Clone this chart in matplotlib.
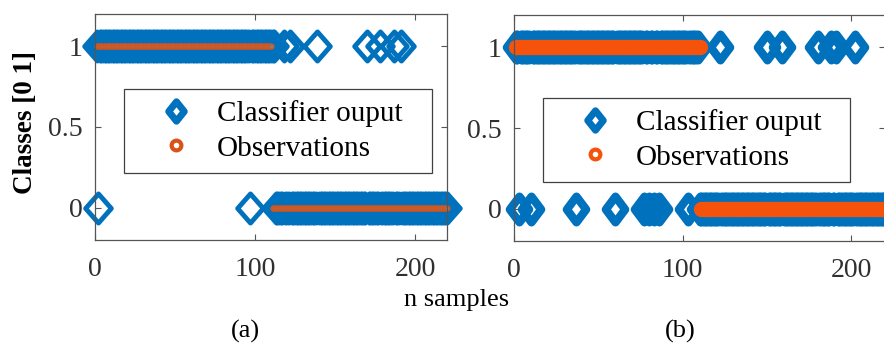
import numpy as np
import matplotlib
matplotlib.use("Agg")
import matplotlib.pyplot as plt
from matplotlib.path import Path
from matplotlib.markers import MarkerStyle
from matplotlib.lines import Line2D

plt.rcParams['font.family'] = ['Liberation Serif', 'DejaVu Serif']

# samples 1..220, observations switch from class 1 to class 0 after sample 110
n_samples = 220
obs_last_one = 110

# panel (a): classifier output
a_cls_last_one = 112
a_zeros_in_ones = [2, 97]
a_ones_in_zeros = [118, 122, 139, 170, 178, 187, 191]

# panel (b)
b_cls_last_one = 109
b_zeros_in_ones = [3, 10, 37, 60, 77, 80, 83, 86, 103]
b_ones_in_zeros = [122, 150, 159, 180, 188, 191, 202]

x_ticks = [0, 100, 200]
y_ticks = [0, 0.5, 1]
y_tick_labels = ['0', '0.5', '1']

blue = '#0072BD'
orange_a = '#D95319'
orange_b = '#F5520C'
grey = '#555555'


def make_series(last_one, zeros_in_ones, ones_in_zeros):
  idx = np.arange(1, n_samples + 1)
  vals = np.where(idx <= last_one, 1.0, 0.0)
  for i in zeros_in_ones:
    vals[i - 1] = 0.0
  for i in ones_in_zeros:
    vals[i - 1] = 1.0
  return idx, vals


def diamond(w):
  verts = [(0, 1), (w, 0), (0, -1), (-w, 0), (0, 1)]
  return MarkerStyle(Path(verts, closed=True), joinstyle='miter')


def style_axes(ax):
  ax.set_xlim(0, 220)
  ax.set_ylim(-0.2, 1.2)
  ax.set_xticks(x_ticks)
  ax.set_yticks(y_ticks)
  ax.set_yticklabels(y_tick_labels)
  ax.tick_params(direction='in', length=4, width=0.8, top=True, right=True,
                 color=grey, labelcolor='#303030', labelsize=20)
  ax.tick_params(axis='x', pad=12)
  ax.tick_params(axis='y', pad=9)
  for sp in ax.spines.values():
    sp.set_color(grey)
    sp.set_linewidth(0.9)


W, H = 884, 344
fig = plt.figure(figsize=(W / 100, H / 100), dpi=100)
ax_a = fig.add_axes([95 / W, 1 - 240 / H, 352 / W, 226 / H])
ax_b = fig.add_axes([514 / W, 1 - 241 / H, 371 / W, 226 / H])

idx, obs = make_series(obs_last_one, [], [])

# (a)
_, cls_a = make_series(a_cls_last_one, a_zeros_in_ones, a_ones_in_zeros)
ax_a.plot(idx, cls_a, ls='none', marker=diamond(0.88), ms=21, mew=3.5,
          mec=blue, mfc='none', clip_on=False)
ax_a.plot(idx, obs, ls='none', marker='o', ms=3.5, mew=1,
          mec=orange_a, mfc='#808080', clip_on=False)
style_axes(ax_a)

# (b)
_, cls_b = make_series(b_cls_last_one, b_zeros_in_ones, b_ones_in_zeros)
ax_b.plot(idx, cls_b, ls='none', marker=diamond(0.75), ms=18.5, mew=6,
          mec=blue, mfc='none', clip_on=False)
ax_b.plot(idx, obs, ls='none', marker='o', ms=8, mew=3,
          mec=orange_b, mfc=orange_b, clip_on=False)
style_axes(ax_b)

legend_labels = ['Classifier ouput', 'Observations']
for ax, oc, box in [(ax_a, orange_a, (124, 89, 308)), (ax_b, orange_b, (543, 98, 307))]:
  handles = [
      Line2D([], [], ls='none', marker=diamond(0.8), ms=14, mew=5,
             mec=blue, mfc='white'),
      Line2D([], [], ls='none', marker='o', ms=7, mew=3,
             mec=oc, mfc='white'),
  ]
  x0, y0, bw = box
  ax.legend(handles, legend_labels, loc='upper left', mode='expand',
            bbox_to_anchor=(x0 / W, 1 - y0 / H, bw / W, 0),
            bbox_transform=fig.transFigure, borderaxespad=0,
            fontsize=21, frameon=True, fancybox=False, edgecolor='#404040',
            framealpha=1, handlelength=2.8, handletextpad=0.0,
            borderpad=0.38, labelspacing=0.28)
  ax.get_legend().get_frame().set_linewidth(0.9)

fig.text(25 / W, 1 - 122 / H, 'Classes [0 1]', rotation=90, ha='center',
         va='center', fontsize=19.5, fontweight='bold')
fig.text(457 / W, 1 - 300 / H, 'n samples', ha='center', va='center', fontsize=19)
fig.text(245 / W, 1 - 331 / H, '(a)', ha='center', va='center', fontsize=19)
fig.text(680 / W, 1 - 331 / H, '(b)', ha='center', va='center', fontsize=19)

fig.savefig('out.png', dpi=100)
